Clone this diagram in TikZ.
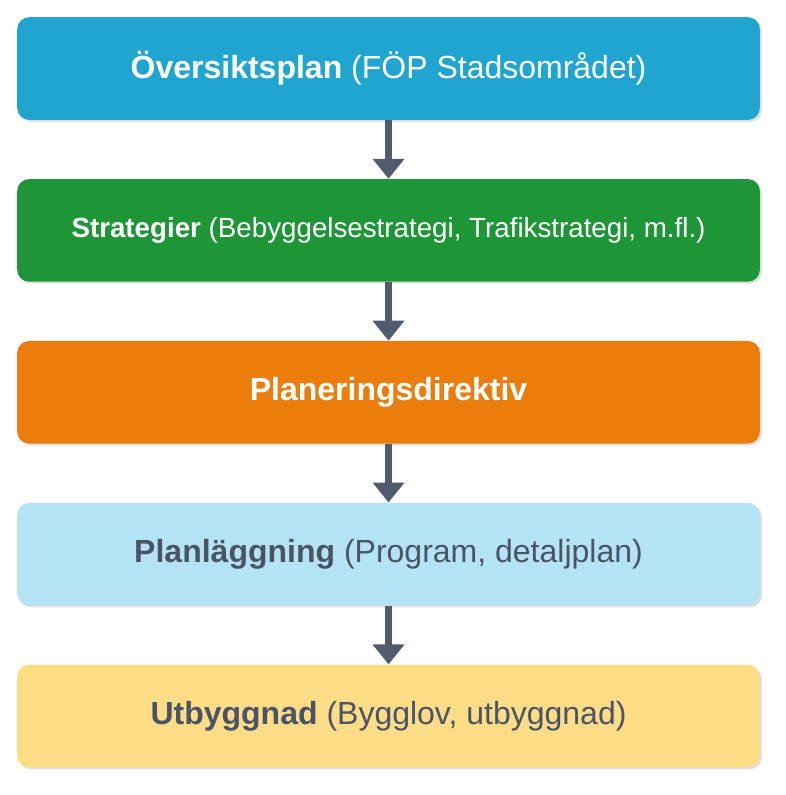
\documentclass[tikz,border=0pt]{standalone}
\usepackage{fontspec}
\setmainfont{Liberation Sans}
\usetikzlibrary{positioning,shadows,arrows.meta}
\definecolor{planblue}{RGB}{31,165,208}
\definecolor{stratgreen}{RGB}{30,150,56}
\definecolor{dirorange}{RGB}{234,125,12}
\definecolor{paleblue}{RGB}{180,228,244}
\definecolor{paleyellow}{RGB}{253,220,134}
\definecolor{darktext}{RGB}{74,84,104}
\definecolor{arrowgray}{RGB}{82,91,107}

\begin{document}
\begin{tikzpicture}[node distance=44pt,
  stage/.style={rounded corners=9pt,minimum width=557pt,minimum height=77pt,
    font=\fontsize{24}{28}\selectfont,drop shadow={opacity=0.25,shadow xshift=1.5pt,shadow yshift=-1.5pt}},
  flow/.style={arrowgray,line width=5pt,-{Triangle[width=23pt,length=15pt]}}]
  \useasboundingbox (0,0) rectangle (588.75pt,-596.25pt);
  \node[stage,fill=planblue,text=white] (plan) at (291.4pt,-51.4pt) {\textbf{Översiktsplan} (FÖP Stadsområdet)};
  \node[stage,fill=stratgreen,text=white,below=of plan,font=\fontsize{20.8}{24}\selectfont] (strat) {\textbf{Strategier} (Bebyggelsestrategi, Trafikstrategi, m.fl.)};
  \node[stage,fill=dirorange,text=white,below=of strat] (dir) {\textbf{Planeringsdirektiv}};
  \node[stage,fill=paleblue,text=darktext,below=of dir] (lagg) {\textbf{Planläggning} (Program, detaljplan)};
  \node[stage,fill=paleyellow,text=darktext,below=of lagg] (bygg) {\textbf{Utbyggnad} (Bygglov, utbyggnad)};

  \draw[flow] (plan) -- (strat);
  \draw[flow] (strat) -- (dir);
  \draw[flow] (dir) -- (lagg);
  \draw[flow] (lagg) -- (bygg);
\end{tikzpicture}
\end{document}
